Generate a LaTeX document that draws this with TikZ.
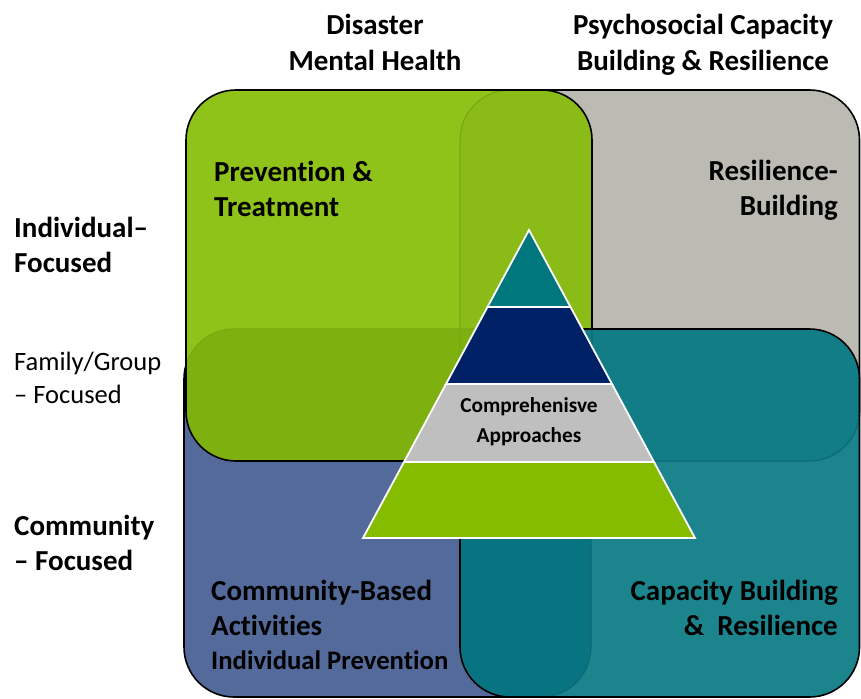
\documentclass[tikz,border=0pt]{standalone}
\usepackage{fontspec}
\setmainfont{Carlito}[Ligatures={NoCommon}]
\definecolor{cGreen}{RGB}{143,195,26}
\definecolor{cGG}{RGB}{138,187,22}
\definecolor{cGB}{RGB}{126,177,15}
\definecolor{cGray}{RGB}{188,187,179}
\definecolor{cBlue}{RGB}{83,106,155}
\definecolor{cTeal}{RGB}{27,132,140}
\definecolor{cTG}{RGB}{18,125,134}
\definecolor{cTB}{RGB}{8,116,129}
\definecolor{fG}{RGB}{121,168,18}
\definecolor{fT}{RGB}{11,106,115}
\definecolor{pA}{RGB}{0,119,125}
\definecolor{pB}{RGB}{0,33,102}
\definecolor{pC}{RGB}{191,191,191}
\definecolor{pD}{RGB}{134,188,0}
\newcommand{\boxGray}{(460,90) rectangle (859.5,461)}
\newcommand{\boxGreen}{(186,90) rectangle (592,461)}
\newcommand{\boxBlue}{(184,329) rectangle (591,697)}
\newcommand{\boxTeal}{(460,329) rectangle (859.5,697)}
\tikzset{
  rc/.style={rounded corners=50pt},
  edge/.style={rc, draw=black, line width=1.6pt},
  faint/.style={rc, line width=1.2pt},
  layer/.style={draw=white, line width=1.8pt, line join=miter},
  hd/.style={font=\fontsize{29}{35.5}\selectfont\bfseries, inner sep=0pt},
  hdreg/.style={font=\fontsize{26.5}{33}\selectfont, inner sep=0pt},
  pyr/.style={font=\fontsize{21.3}{30}\selectfont\bfseries, inner sep=0pt, align=center}
}
\begin{document}
\begin{tikzpicture}[x=1pt,y=-1pt]
\useasboundingbox (0,0) rectangle (861,698);
% base boxes
\fill[cGray, rc] \boxGray;
\draw[edge] \boxGray;
\fill[cBlue, rc] \boxBlue;
\draw[edge] \boxBlue;
\fill[cGreen, rc] \boxGreen;
\begin{scope}
  \clip[rc] \boxGreen;
  \fill[cGG, rc] \boxGray;
  \fill[cGB, rc] \boxBlue;
  \draw[faint, fG] \boxGray;
  \draw[faint, fG] \boxBlue;
\end{scope}
\draw[edge] \boxGreen;
\fill[cTeal, rc] \boxTeal;
\begin{scope}
  \clip[rc] \boxTeal;
  \fill[cTG, rc] \boxGray;
  \fill[cTG, rc] \boxGreen;
  \fill[cTB, rc] \boxBlue;
  \draw[faint, fT] \boxGray;
  \draw[faint, fT] \boxBlue;
  \draw[faint, fT] \boxGreen;
\end{scope}
\draw[edge] \boxTeal;
% pyramid
\coordinate (apex) at (529,230);
\coordinate (l1) at (487.5,307); \coordinate (r1) at (570.5,307);
\coordinate (l2) at (446,384);   \coordinate (r2) at (612,384);
\coordinate (l3) at (404,462);   \coordinate (r3) at (654,462);
\coordinate (l4) at (363,538);   \coordinate (r4) at (695,538);
\filldraw[layer, fill=pD] (l3) -- (r3) -- (r4) -- (l4) -- cycle;
\filldraw[layer, fill=pC] (l2) -- (r2) -- (r3) -- (l3) -- cycle;
\filldraw[layer, fill=pB] (l1) -- (r1) -- (r2) -- (l2) -- cycle;
\filldraw[layer, fill=pA] (apex) -- (r1) -- (l1) -- cycle;
\node[pyr] (pyrtext) at (529,422) {Comprehenisve\\Approaches};
% headings
\node[hd, align=center] (dmh) at (375,42.5) {Disaster\\Mental Health};
\node[hd, align=center] (pcb) at (703,45) {Psychosocial Capacity\\Building \& Resilience};
\node[hd, align=left, anchor=west] (indiv) at (14,245) {Individual–\\Focused};
\node[hdreg, align=left, anchor=west] (family) at (14,377.5) {Family/Group\\– Focused};
\node[hd, align=left, anchor=west] (comm) at (14,543) {Community\\– Focused};
% box labels
\node[hd, align=left, anchor=west] (prev) at (214,189) {Prevention \&\\Treatment};
\node[hd, align=right, anchor=east] (resil) at (838,190.5) {Resilience-\\Building};
\node[hd, align=left, anchor=west] (cba) at (211,608) {Community-Based\\Activities};
\node[anchor=west, inner sep=0pt, font=\fontsize{26.7}{30}\selectfont\bfseries] (ip) at (211,660) {Individual Prevention};
\node[hd, align=right, anchor=east] (cbr) at (838,608) {Capacity Building\\\&\ \ Resilience};
\end{tikzpicture}
\end{document}
